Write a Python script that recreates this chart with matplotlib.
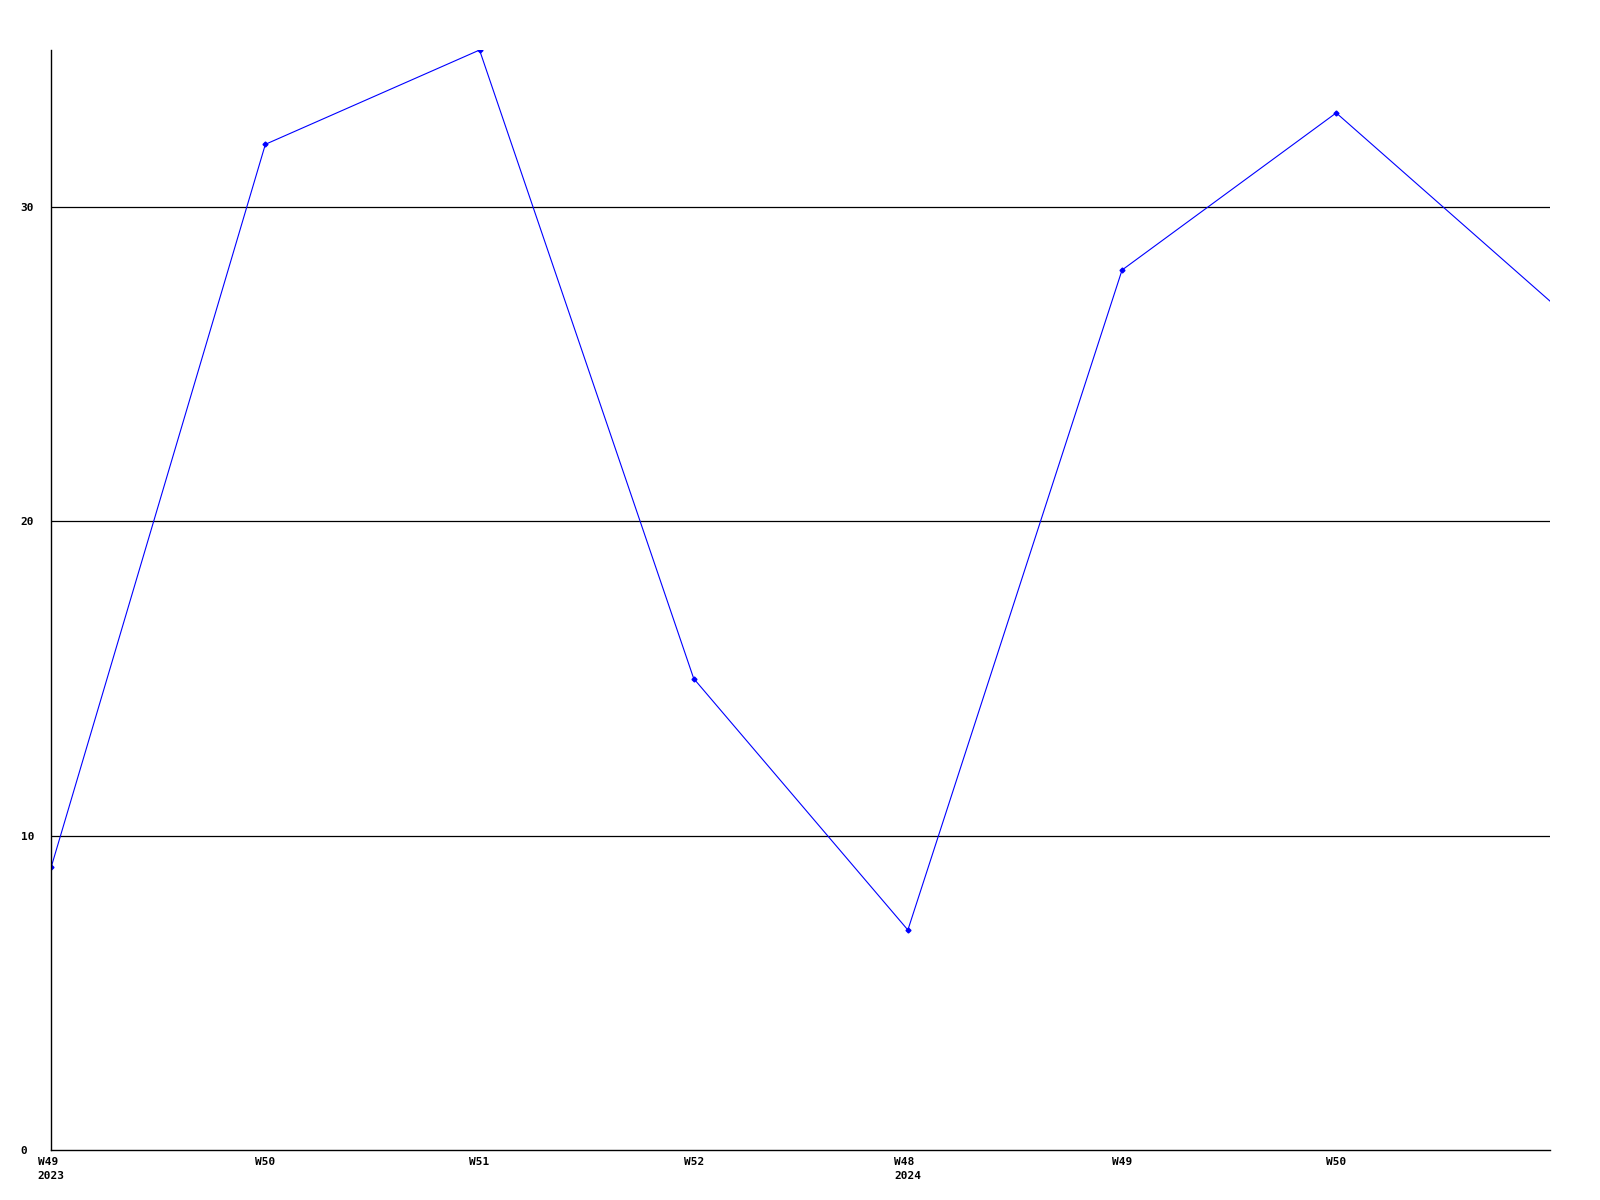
import matplotlib
matplotlib.use("Agg")
import matplotlib.pyplot as plt

# weekly values, last point runs past the right edge
weeks = ["W49\n2023", "W50", "W51", "W52", "W48\n2024", "W49", "W50", ""]
values = [9, 32, 35, 15, 7, 28, 33, 27]
y_ticks = [0, 10, 20, 30]

fig = plt.figure(figsize=(16, 12), dpi=100)
ax = fig.add_axes([0.032, 0.0417, 0.937, 0.9166])

x = list(range(len(values)))
ax.plot(x, values, color="#0000ff", lw=0.8, marker="D", ms=2.5,
        markevery=list(range(len(values) - 1)))

ax.set_xlim(0, 7.0)
ax.set_ylim(0, 35)

for t in y_ticks[1:]:
    ax.axhline(t, color="black", lw=0.9, zorder=0)

ax.set_xticks(x[:-1])
ax.set_xticklabels(weeks[:-1], family="DejaVu Sans Mono", fontweight="bold",
                   fontsize=8, ha="center", va="top", linespacing=1.5,
                   multialignment="left")
ax.set_yticks(y_ticks)
ax.set_yticklabels([str(t) for t in y_ticks], family="DejaVu Sans Mono",
                   fontweight="bold", fontsize=8, ha="left")
ax.tick_params(length=0)
ax.tick_params(axis="y", pad=22)
ax.tick_params(axis="x", pad=5)

for s in ["top", "right"]:
    ax.spines[s].set_visible(False)
for s in ["left", "bottom"]:
    ax.spines[s].set_color("black")
    ax.spines[s].set_linewidth(1)

fig.savefig("out.png", dpi=100)
